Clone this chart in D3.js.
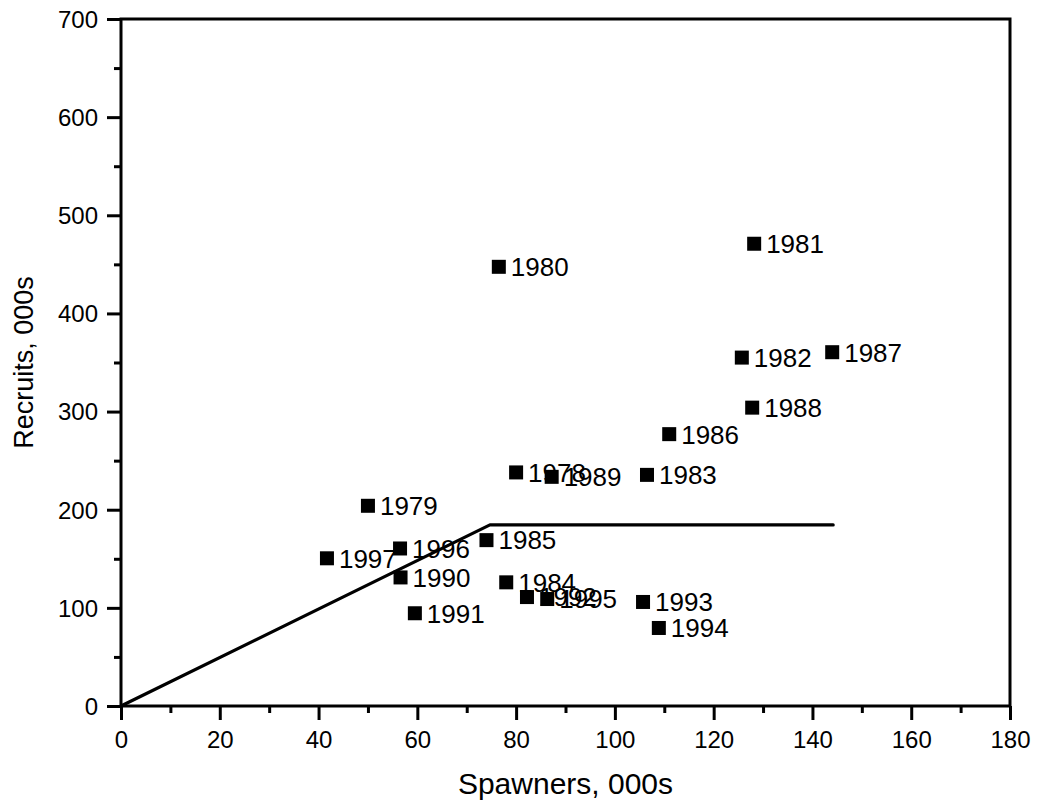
<!DOCTYPE html>
<html>
<head>
<meta charset="utf-8">
<script src="https://cdn.jsdelivr.net/npm/d3@7"></script>
<style>
  body { margin: 0; background: #fff; }
  svg { font-family: "Liberation Sans", Arial, sans-serif; }
</style>
</head>
<body>
<svg width="1039" height="808"></svg>
<script>
// spawner / recruit data (000s)
const years    = [1978, 1979, 1980, 1981, 1982, 1983, 1984, 1985, 1986, 1987, 1988, 1989, 1990, 1991, 1992, 1993, 1994, 1995, 1996, 1997];
const spawners = [80, 50, 76.5, 128.2, 125.7, 106.5, 78, 74, 111, 144, 127.8, 87.2, 56.6, 59.5, 82.2, 105.7, 108.9, 86.3, 56.5, 41.7];
const recruits = [238, 204, 447.5, 471, 355, 235.5, 126, 169, 277, 360.5, 304, 233.5, 131, 94.5, 111, 106, 79.5, 109, 160.5, 150.5];
const hockeyX = [0, 74.7, 144.2];
const hockeyY = [0, 184.5, 184.5];
const xTicks = [0, 20, 40, 60, 80, 100, 120, 140, 160, 180];
const yTicks = [0, 100, 200, 300, 400, 500, 600, 700];

const svg = d3.select("svg");
const mLeft = 121, mTop = 19, mRight = 1010, mBottom = 706;

const x = d3.scaleLinear().domain([0, 180]).range([mLeft, mRight]);
const y = d3.scaleLinear().domain([0, 700]).range([mBottom, mTop]);

// minor ticks
svg.append("g")
    .attr("transform", `translate(0,${mBottom})`)
    .call(d3.axisBottom(x).tickValues(d3.range(10, 180, 20)).tickSize(7).tickSizeOuter(0).tickFormat(""))
    .call(g => g.select(".domain").remove());
svg.append("g")
    .attr("transform", `translate(${mLeft},0)`)
    .call(d3.axisLeft(y).tickValues(d3.range(50, 700, 100)).tickSize(7).tickSizeOuter(0).tickFormat(""))
    .call(g => g.select(".domain").remove());

// major ticks
const xAxis = svg.append("g")
    .attr("transform", `translate(0,${mBottom})`)
    .call(d3.axisBottom(x).tickValues(xTicks).tickSize(14).tickSizeOuter(0).tickPadding(9));
const yAxis = svg.append("g")
    .attr("transform", `translate(${mLeft},0)`)
    .call(d3.axisLeft(y).tickValues(yTicks).tickSize(14).tickSizeOuter(0).tickPadding(9));

svg.selectAll(".tick line").attr("stroke", "#000").attr("stroke-width", 3);
svg.selectAll(".domain").remove();
xAxis.selectAll("text").attr("font-size", 24).attr("fill", "#000").attr("font-family", null).attr("dy", "0.8em");
yAxis.selectAll("text").attr("font-size", 24).attr("fill", "#000").attr("font-family", null).attr("dy", "0.35em");

// frame
svg.append("rect")
    .attr("x", mLeft).attr("y", mTop)
    .attr("width", mRight - mLeft).attr("height", mBottom - mTop)
    .attr("fill", "none").attr("stroke", "#000").attr("stroke-width", 3);

// hockey-stick line
const line = d3.line().x(d => x(d[0])).y(d => y(d[1]));
svg.append("path")
    .datum(d3.zip(hockeyX, hockeyY))
    .attr("d", line)
    .attr("fill", "none").attr("stroke", "#000").attr("stroke-width", 3.2)
    .attr("stroke-linejoin", "round").attr("stroke-linecap", "round");

// points
const pts = years.map((yr, i) => ({ yr, s: spawners[i], r: recruits[i] }));
const ms = 14;
svg.append("g").selectAll("rect")
    .data(pts).join("rect")
    .attr("x", d => x(d.s) - ms / 2)
    .attr("y", d => y(d.r) - ms / 2)
    .attr("width", ms).attr("height", ms)
    .attr("fill", "#000");

svg.append("g").selectAll("text")
    .data(pts).join("text")
    .attr("x", d => x(d.s) + 12)
    .attr("y", d => y(d.r))
    .attr("dy", "0.36em")
    .attr("font-size", 26)
    .text(d => d.yr);

// axis titles
svg.append("text")
    .attr("x", (mLeft + mRight) / 2).attr("y", 794)
    .attr("text-anchor", "middle").attr("font-size", 30)
    .text("Spawners, 000s");
svg.append("text")
    .attr("transform", `translate(33,${(mTop + mBottom) / 2}) rotate(-90)`)
    .attr("text-anchor", "middle").attr("font-size", 27)
    .text("Recruits, 000s");
</script>
</body>
</html>
